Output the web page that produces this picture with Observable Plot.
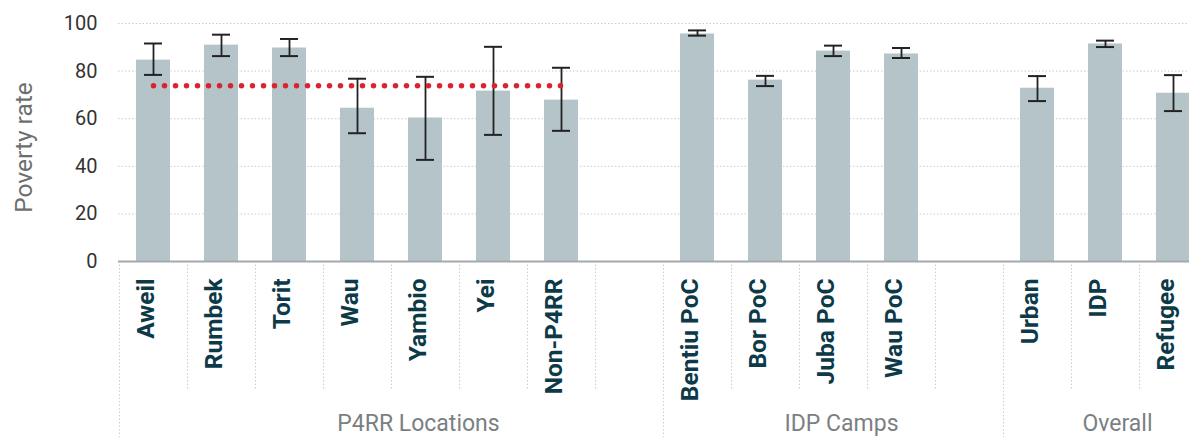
<!DOCTYPE html>
<html>
<head>
<meta charset="utf-8">
<script src="https://cdn.jsdelivr.net/npm/d3@7"></script>
<script src="https://cdn.jsdelivr.net/npm/@observablehq/plot@0.6"></script>
<style>
  html, body { margin: 0; padding: 0; background: #fff; overflow: hidden; }
</style>
</head>
<body>
<div id="chart"></div>
<script>
// Poverty rate by location, with 95% confidence intervals.
// Blank slots (" ", "  ") leave a gap between the three groups.
const categories = ["Aweil", "Rumbek", "Torit", "Wau", "Yambio", "Yei", "Non-P4RR", " ",
                    "Bentiu PoC", "Bor PoC", "Juba PoC", "Wau PoC", "  ",
                    "Urban", "IDP", "Refugee"];
const rates = [84.6, 90.9, 89.7, 64.4, 60.3, 71.6, 67.8, null,
               95.6, 76.2, 88.4, 87.2, null,
               72.8, 91.4, 70.7];
const lower = [78.4, 86.3, 86.3, 53.9, 42.7, 53.2, 54.9, null,
               94.9, 73.7, 86.3, 85.5, null,
               67.4, 90.1, 63.2];
const upper = [91.6, 95.3, 93.5, 76.8, 77.6, 90.2, 81.4, null,
               97.1, 78.0, 90.7, 89.7, null,
               77.9, 92.8, 78.3];

// Groups: name, first category, and the category the label sits under
const groupNames = ["P4RR Locations", "IDP Camps", "Overall"];
const groupStarts = ["Aweil", "Bentiu PoC", "Urban"];
const groupLabelAt = ["Yambio", "Juba PoC", "IDP"];
const groupLabelShift = [-7, 8, 12];

// Average across the P4RR locations, drawn from Aweil to Non-P4RR
const referenceRate = 73.8;
const referenceSpan = ["Aweil", "Non-P4RR"];

const yTicks = [0, 20, 40, 60, 80, 100];

const rows = categories
  .map((category, i) => ({category, rate: rates[i], lo: lower[i], hi: upper[i]}))
  .filter(d => d.rate != null);
const labelled = categories.filter(c => c.trim() !== "");
const innerEdges = categories.filter((c, i) => i > 0 && !groupStarts.includes(c));

const xRange = [118, 1208];
const step = (xRange[1] - xRange[0]) / categories.length;

const gridColor = "#cccccc";
const errColor = "#222";

const chart = Plot.plot({
  width: 1189,
  height: 437,
  marginLeft: 118,
  marginRight: 0,
  marginTop: 23,
  marginBottom: 176,
  style: {fontFamily: "Roboto, sans-serif", background: "#fff", overflow: "visible"},
  x: {type: "band", domain: categories, range: xRange, paddingInner: 0.5, paddingOuter: 0.25, axis: null},
  y: {domain: [0, 100], axis: null},
  marks: [
    Plot.gridY(yTicks.filter(t => t > 0), {stroke: gridColor, strokeOpacity: 1, strokeDasharray: "1.5,2"}),
    Plot.text(yTicks, {y: d => d, frameAnchor: "left", textAnchor: "end", dx: -21, fontSize: 20, fill: "#333"}),
    Plot.text(["Poverty rate"], {frameAnchor: "left", textAnchor: "middle", rotate: -90, dx: -94, dy: 5,
      fontSize: 24.5, fill: "#6e6e6e"}),

    Plot.barY(rows, {x: "category", y: "rate", fill: "#b5c4c8"}),

    // separators below the axis
    Plot.ruleX(innerEdges, {x: d => d, y1: 0, y2: -54.3, dx: -step / 2, stroke: gridColor, strokeDasharray: "1.5,2"}),
    Plot.ruleX(groupStarts, {x: d => d, y1: 0, y2: -75, dx: -step / 2, stroke: gridColor, strokeDasharray: "1.5,2"}),
    Plot.ruleY([0], {stroke: "#a3aaad", strokeWidth: 2}),

    // confidence intervals
    Plot.ruleX(rows, {x: "category", y1: "lo", y2: "hi", stroke: errColor, strokeWidth: 1.8}),
    Plot.tickY(rows, {x: "category", y: "lo", insetLeft: 8, insetRight: 8, stroke: errColor, strokeWidth: 2}),
    Plot.tickY(rows, {x: "category", y: "hi", insetLeft: 8, insetRight: 8, stroke: errColor, strokeWidth: 2}),

    // dotted reference line
    Plot.lineY(referenceSpan.map(category => ({category, rate: referenceRate})),
      {x: "category", y: "rate", stroke: "#db2330", strokeWidth: 5.5, strokeDasharray: "0,11", strokeLinecap: "round"}),

    // category labels
    Plot.text(labelled, {x: d => d, frameAnchor: "bottom", rotate: -90, textAnchor: "end", dy: 17,
      fontSize: 24.5, fontWeight: 700, fill: "#0c3a49"}),

    // group labels
    ...groupNames.map((name, i) => Plot.text([name], {x: () => groupLabelAt[i], frameAnchor: "bottom",
      dy: 169, dx: groupLabelShift[i], fontSize: 23, fill: "#7b7f83"}))
  ]
});

document.getElementById("chart").append(chart);
</script>
</body>
</html>
